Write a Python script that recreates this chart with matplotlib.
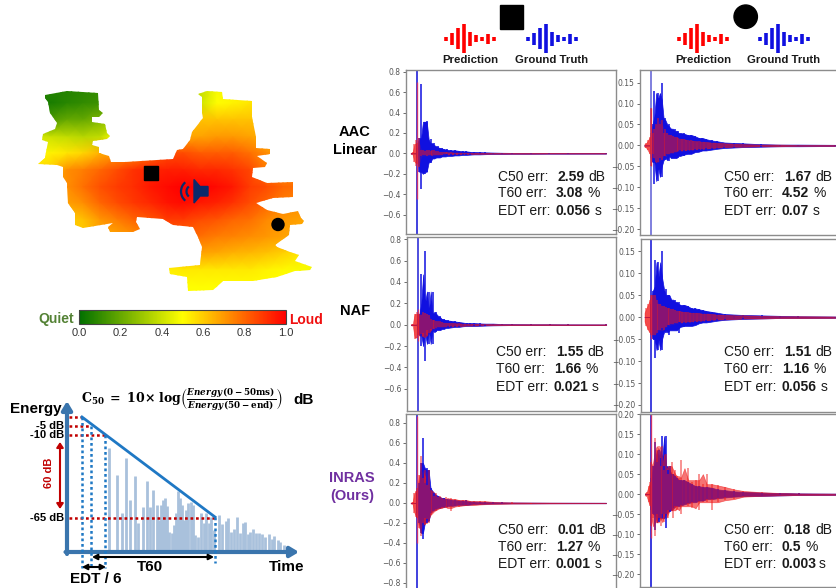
import numpy as np
import matplotlib
matplotlib.use("Agg")
import matplotlib.pyplot as plt
from matplotlib.colors import LinearSegmentedColormap
from matplotlib.patches import Polygon, Rectangle, Circle, Arc

W, H = 836, 588

# waveform sample positions, 0 is the direct sound
t = [-0.035, -0.025, -0.015, -0.005, 0, 0.01, 0.02, 0.03, 0.04, 0.05, 0.06, 0.07, 0.08, 0.09, 0.10, 0.11, 0.12,
     0.13, 0.14, 0.15, 0.16, 0.18, 0.20, 0.22, 0.24, 0.26, 0.28, 0.30, 0.33, 0.36, 0.40, 0.45, 0.50, 0.60, 0.70, 0.80, 1.0]

# AAC, square
a1_gt_hi = [0, 0, 0, 0, .05, .15, .68, .12, .31, .32, .10, .14, .08, .10, .06, .07, .05, .05, .04, .035, .04, .03, .03, .02, .025, .02, .015, .015, .012, .01, .008, .006, .005, .004, .003, .003, .002]
a1_gt_lo = [0, 0, 0, 0, -.05, -.18, -.35, -.06, -.2, -.18, -.08, -.09, -.05, -.05, -.04, -.04, -.03, -.04, -.03, -.03, -.025, -.025, -.02, -.02, -.015, -.015, -.012, -.01, -.01, -.008, -.006, -.005, -.004, -.004, -.003, -.003, -.002]
a1_pr_hi = [0, .01, .09, .13, .10, .15, .03, .03, .02, .03, .03, .02, .035, .03, .02, .02, .015, .015, .012, .012, .01, .01, .008, .008, .006, .006, .005, .005, .005, .004, .004, .003, .003, .003, .003, .002, .002]
a1_pr_lo = [0, -.01, -.08, -.12, -.10, -.13, -.03, -.02, -.02, -.03, -.02, -.02, -.025, -.02, -.015, -.015, -.012, -.012, -.01, -.01, -.01, -.008, -.008, -.006, -.006, -.005, -.005, -.005, -.004, -.004, -.003, -.003, -.003, -.003, -.002, -.002, -.002]
# AAC, circle
b1_gt_hi = [0, 0, 0, 0, .03, .05, .13, .07, .125, .11, .15, .06, .065, .045, .05, .04, .035, .04, .03, .035, .028, .03, .025, .025, .022, .018, .018, .015, .012, .01, .007, .006, .005, .003, .002, .002, .001]
b1_gt_lo = [0, 0, 0, 0, -.03, -.04, -.093, -.04, -.085, -.05, -.075, -.03, -.035, -.025, -.038, -.025, -.03, -.03, -.025, -.03, -.022, -.025, -.02, -.02, -.016, -.015, -.012, -.012, -.01, -.008, -.006, -.005, -.004, -.003, -.002, -.002, -.001]
b1_pr_hi = [0, .005, .012, .02, .09, .03, .04, .05, .065, .05, .06, .03, .04, .03, .025, .025, .022, .02, .02, .018, .016, .015, .012, .012, .01, .01, .009, .008, .007, .006, .005, .004, .003, .002, .002, .001, .001]
b1_pr_lo = [0, -.005, -.012, -.02, -.05, -.02, -.03, -.04, -.04, -.03, -.035, -.025, -.025, -.02, -.02, -.018, -.018, -.016, -.015, -.014, -.012, -.012, -.01, -.01, -.009, -.008, -.008, -.007, -.006, -.005, -.004, -.003, -.003, -.002, -.002, -.001, -.001]
# NAF, square
a2_gt_hi = [0, 0, 0, 0, .05, .10, .47, .20, .69, .12, .31, .08, .31, .10, .12, .07, .08, .05, .05, .04, .04, .035, .03, .025, .02, .015, .015, .02, .012, .01, .01, .006, .005, .004, .004, .003, .002]
a2_gt_lo = [0, 0, 0, 0, -.05, -.1, -.2, -.08, -.34, -.05, -.18, -.04, -.18, -.05, -.07, -.05, -.05, -.04, -.04, -.03, -.03, -.025, -.02, -.02, -.015, -.012, -.012, -.012, -.01, -.008, -.006, -.005, -.004, -.004, -.003, -.003, -.002]
a2_pr_hi = [0, .01, .10, .12, .10, .10, .09, .12, .11, .10, .09, .05, .04, .04, .03, .03, .03, .025, .02, .02, .015, .015, .012, .012, .01, .008, .008, .007, .006, .005, .005, .004, .004, .004, .004, .003, .003]
a2_pr_lo = [0, -.01, -.13, -.12, -.10, -.10, -.09, -.11, -.12, -.10, -.08, -.05, -.04, -.04, -.03, -.025, -.025, -.025, -.02, -.02, -.015, -.015, -.012, -.012, -.01, -.008, -.008, -.007, -.006, -.005, -.005, -.004, -.004, -.004, -.004, -.003, -.003]
# NAF, circle
b2_gt_hi = [0, 0, 0, 0, .03, .06, .13, .07, .125, .09, .15, .05, .065, .05, .05, .04, .035, .04, .03, .035, .028, .028, .025, .02, .02, .018, .016, .014, .012, .01, .007, .006, .005, .004, .003, .002, .001]
b2_gt_lo = [0, 0, 0, 0, -.03, -.05, -.093, -.04, -.075, -.05, -.075, -.03, -.035, -.03, -.04, -.03, -.03, -.03, -.025, -.035, -.02, -.022, -.02, -.02, -.018, -.014, -.012, -.012, -.01, -.008, -.006, -.005, -.004, -.003, -.002, -.002, -.001]
b2_pr_hi = [0, .02, .03, .04, .05, .05, .05, .04, .03, .03, .025, .025, .022, .02, .02, .018, .018, .016, .015, .014, .013, .012, .011, .01, .01, .009, .008, .008, .007, .006, .005, .004, .004, .003, .002, .002, .001]
b2_pr_lo = [0, -.02, -.03, -.035, -.04, -.04, -.04, -.035, -.03, -.03, -.025, -.03, -.022, -.018, -.018, -.016, -.016, -.014, -.014, -.012, -.012, -.011, -.01, -.01, -.009, -.008, -.008, -.007, -.006, -.005, -.005, -.004, -.003, -.003, -.002, -.002, -.001]
# INRAS, square
a3_gt_hi = [0, 0, 0, 0, .1, .2, .4, .65, .2, .35, .33, .15, .12, .1, .08, .07, .06, .05, .05, .04, .04, .035, .03, .025, .02, .03, .015, .015, .012, .01, .008, .006, .005, .004, .003, .003, .002]
a3_gt_lo = [0, 0, 0, 0, -.1, -.2, -.3, -.36, -.15, -.2, -.18, -.1, -.08, -.07, -.06, -.05, -.05, -.04, -.04, -.03, -.035, -.03, -.025, -.02, -.02, -.02, -.015, -.012, -.01, -.008, -.006, -.005, -.004, -.004, -.003, -.003, -.002]
a3_pr_hi = [0, .01, .1, .12, .15, .28, .47, .25, .33, .18, .33, .13, .12, .07, .1, .06, .07, .05, .04, .06, .04, .05, .04, .03, .03, .035, .02, .02, .018, .02, .012, .008, .006, .005, .004, .003, .002]
a3_pr_lo = [0, -.01, -.1, -.14, -.15, -.25, -.33, -.2, -.22, -.16, -.2, -.12, -.1, -.07, -.08, -.05, -.06, -.05, -.04, -.04, -.05, -.08, -.03, -.035, -.02, -.025, -.02, -.015, -.02, -.012, -.01, -.008, -.006, -.005, -.004, -.003, -.002]
# INRAS, circle
b3_gt_hi = [0, 0, 0, 0, .04, .07, .13, .08, .11, .09, .145, .07, .145, .06, .07, .05, .05, .045, .04, .035, .035, .035, .03, .025, .02, .02, .018, .018, .016, .012, .01, .007, .006, .004, .003, .002, .001]
b3_gt_lo = [0, 0, 0, 0, -.04, -.05, -.09, -.05, -.07, -.06, -.06, -.05, -.085, -.04, -.045, -.04, -.035, -.03, -.03, -.03, -.028, -.025, -.022, -.02, -.02, -.016, -.016, -.012, -.012, -.01, -.008, -.006, -.005, -.004, -.003, -.002, -.001]
b3_pr_hi = [0, .005, .02, .03, .08, .07, .14, .11, .12, .07, .12, .06, .1, .05, .07, .08, .05, .06, .045, .04, .085, .035, .065, .03, .035, .05, .025, .05, .025, .022, .018, .012, .008, .005, .003, .002, .001]
b3_pr_lo = [0, -.005, -.02, -.03, -.08, -.06, -.105, -.07, -.06, -.08, -.05, -.07, -.05, -.06, -.04, -.04, -.06, -.035, -.04, -.03, -.05, -.025, -.03, -.035, -.02, -.04, -.02, -.02, -.04, -.02, -.015, -.012, -.006, -.004, -.003, -.002, -.001]

# direct sound spike (top, bottom) for ground truth and prediction
a_spikes = [((1, -1), (.7, -.45)), ((1, -1), (.15, -.15)), ((1, -1), (.87, -.4))]
b_spikes = [((1, -1), (.09, -.05)), ((1, -1), (.05, -.05)), ((1, -1), (.2, -.11))]

err_labels = ["C50 err:", "T60 err:", "EDT err:"]
err_units = ["dB", "%", "s"]
a_errs = [["2.59", "3.08", "0.056"], ["1.55", "1.66", "0.021"], ["0.01", "1.27", "0.001"]]
b_errs = [["1.67", "4.52", "0.07"], ["1.51", "1.16", "0.056"], ["0.18", "0.5", "0.003"]]

# loudness on a coarse grid over the room
map_x = [33, 50, 67, 83, 100, 117, 133, 150, 167, 183, 200, 217, 233, 250, 267, 283, 300, 317]
map_y = [87, 103, 120, 137, 153, 170, 187, 203, 220, 237, 253, 270, 287, 303]
loudness = [
    [.08, .08, .07, .08, .10, .20, .30, .35, .38, .38, .38, .48, .52, .55, .55, .55, .55, .55],
    [.08, .05, .08, .10, .12, .20, .30, .40, .42, .42, .40, .50, .52, .55, .55, .55, .55, .55],
    [.20, .15, .20, .20, .25, .30, .40, .50, .55, .60, .62, .62, .62, .62, .62, .62, .60, .60],
    [.42, .40, .38, .36, .38, .50, .55, .60, .65, .68, .68, .70, .70, .68, .65, .65, .60, .60],
    [.52, .52, .55, .58, .65, .70, .72, .78, .85, .85, .82, .82, .82, .78, .72, .70, .65, .65],
    [.55, .60, .72, .75, .80, .85, .90, .93, .94, .94, .92, .92, .90, .86, .75, .72, .70, .70],
    [.65, .70, .72, .78, .84, .88, .91, .95, .98, 1.0, 1.0, .98, .95, .88, .85, .80, .78, .75],
    [.62, .65, .68, .72, .80, .85, .89, .92, .96, .98, .95, .93, .90, .85, .80, .75, .72, .70],
    [.55, .58, .60, .62, .70, .75, .80, .83, .88, .88, .85, .83, .80, .78, .73, .70, .68, .65],
    [.50, .55, .58, .60, .66, .67, .70, .74, .77, .80, .78, .75, .74, .72, .70, .68, .66, .62],
    [.50, .50, .55, .58, .60, .60, .60, .62, .64, .66, .68, .67, .65, .64, .62, .59, .55, .50],
    [.50, .50, .50, .52, .52, .52, .52, .52, .53, .54, .54, .54, .54, .54, .52, .51, .49, .48],
    [.50, .50, .50, .50, .50, .50, .50, .50, .50, .50, .50, .50, .50, .50, .50, .50, .50, .50],
    [.50, .50, .50, .50, .50, .50, .50, .50, .50, .50, .50, .50, .50, .50, .50, .50, .50, .50],
]
room_x = [45, 67, 98, 99, 103, 99, 92, 92, 105, 107, 110, 107, 93, 92, 99, 99, 109, 111, 125, 173, 177, 183, 190, 192, 203, 202, 202, 198, 207, 222, 223, 252, 252, 256, 256, 270, 270, 257, 267, 265, 253, 252, 267, 293, 293, 273, 256, 267, 283, 298, 301, 304, 302, 290, 289, 275, 277, 290, 299, 295, 312, 310, 295, 277, 253, 223, 213, 188, 187, 170, 169, 200, 202, 198, 193, 173, 163, 137, 136, 140, 133, 110, 108, 113, 83, 75, 75, 68, 67, 63, 63, 57, 38, 38, 45, 45, 48, 42, 43, 55, 57, 50, 48, 45]
room_y = [95, 91, 93, 110, 113, 117, 117, 122, 124, 133, 136, 139, 141, 145, 147, 153, 156, 162, 162, 159, 150, 149, 140, 132, 118, 113, 97, 94, 91, 92, 99, 101, 117, 137, 148, 149, 154, 156, 163, 167, 168, 177, 183, 182, 197, 198, 203, 210, 214, 211, 218, 221, 224, 225, 235, 245, 247, 252, 255, 261, 267, 270, 271, 277, 281, 281, 290, 291, 277, 274, 268, 265, 247, 237, 227, 225, 219, 217, 222, 229, 232, 232, 227, 223, 228, 225, 213, 203, 183, 177, 167, 165, 164, 164, 158, 157, 142, 140, 134, 129, 123, 113, 102, 98]

# energy decay bars in the diagram
energy_x = [109, 117, 122, 126, 130, 135, 138, 143, 147, 150, 153, 157, 159, 161, 163, 165, 167, 169, 172, 174, 176, 178, 180, 182, 184, 186, 188, 191, 193, 195, 198, 201, 204, 206, 209, 211, 214, 219, 222, 226, 228, 231, 234, 237, 240, 243, 245, 248, 250, 253, 256, 259, 262, 265, 269, 272, 274, 278, 280, 284]
energy_top = [448, 475, 513, 458, 500, 476, 523, 507, 481, 507, 490, 505, 520, 505, 500, 498, 506, 532, 533, 525, 513, 491, 498, 505, 520, 510, 503, 502, 505, 535, 537, 513, 523, 513, 523, 517, 530, 515, 524, 521, 518, 532, 529, 517, 533, 523, 522, 534, 532, 529, 533, 533, 534, 537, 534, 539, 536, 540, 542, 545]

# little waveform icon above the panels
icon_offset = [-24, -18, -12.5, -6.5, 0, 6, 12, 18, 24]
icon_height = [4, 12, 21, 29, 14, 7, 4, 10, 4]

plt.rcParams['font.family'] = ['Liberation Sans', 'DejaVu Sans']
plt.rcParams['mathtext.fontset'] = 'dejavuserif'

fig = plt.figure(figsize=(W / 100, H / 100), dpi=100)


def px_axes(l, t_, r, b):
    return fig.add_axes([l / W, 1 - b / H, (r - l) / W, (b - t_) / H])


px = fig.add_axes([0, 0, 1, 1], zorder=10)
px.set_xlim(0, W)
px.set_ylim(H, 0)
px.axis('off')

cmap = LinearSegmentedColormap.from_list('loud', ['#006f00', '#ffff00', '#ff0000'])


def draw_wave(ax, hi, lo, col, alpha):
    # solid body from the middle of each three peaks, then the peaks as thin lines
    body_hi = [np.median(hi[max(i - 1, 0):i + 2]) for i in range(len(hi))]
    body_lo = [np.median(lo[max(i - 1, 0):i + 2]) for i in range(len(lo))]
    ax.fill_between(t, body_lo, body_hi, color=col, lw=0.5, alpha=alpha)
    ax.vlines(t, lo, hi, color=col, lw=1.1, alpha=alpha)


def wave_panel(box, yticks, ylim, fmt, start, length, gt_hi, gt_lo, pr_hi, pr_lo, spikes, spike_col):
    ax = px_axes(*box)
    width = box[2] - box[0]
    ax.set_xlim((box[0] - start) / length, (box[0] - start + width) / length)
    ax.set_ylim(*ylim)
    draw_wave(ax, gt_hi, gt_lo, '#1010e0', 1)
    ax.vlines(0, spikes[0][1], spikes[0][0], color=spike_col, lw=1.2)
    ax.vlines(0, spikes[1][1], spikes[1][0], color='#f03050', lw=1, alpha=0.8)
    draw_wave(ax, pr_hi, pr_lo, '#f01818', 0.6)
    ax.set_xticks([])
    ax.set_yticks(yticks)
    ax.set_yticklabels([fmt % v if v >= 0 else '\u2212' + fmt % -v for v in yticks])
    ax.tick_params(axis='y', labelsize=5.5, length=2, width=0.6, pad=2, colors='#555555', labelfontfamily='DejaVu Sans')
    for s in ax.spines.values():
        s.set_color('#8c8c8c')
        s.set_linewidth(1.0)
    return ax


a_ticks = [0.8, 0.6, 0.4, 0.2, 0.0, -0.2, -0.4, -0.6]
b_ticks = [0.15, 0.10, 0.05, 0.0, -0.05, -0.10, -0.15, -0.20]
a3_ticks = [0.8, 0.6, 0.4, 0.2, 0.0, -0.2, -0.4, -0.6, -0.8]
b3_ticks = [0.20, 0.15, 0.10, 0.05, 0.0, -0.05, -0.10, -0.15, -0.20]

wave_panel((406, 70, 616, 234), a_ticks, (-.79, .817), '%.1f', 417.3, 188.7, a1_gt_hi, a1_gt_lo, a1_pr_hi, a1_pr_lo, a_spikes[0], '#2020d8')
wave_panel((407, 237, 616, 411), a_ticks, (-.807, .82), '%.1f', 417.5, 188.7, a2_gt_hi, a2_gt_lo, a2_pr_hi, a2_pr_lo, a_spikes[1], '#3030d8')
wave_panel((406, 414, 616, 592), a3_ticks, (-.89, .89), '%.1f', 417.3, 188.7, a3_gt_hi, a3_gt_lo, a3_pr_hi, a3_pr_lo, a_spikes[2], '#2020d8')
wave_panel((640, 70, 840, 235), b_ticks, (-.2137, .18), '%.2f', 650.7, 184.3, b1_gt_hi, b1_gt_lo, b1_pr_hi, b1_pr_lo, b_spikes[0], '#6a6ad8')
wave_panel((641, 239, 840, 412), b_ticks, (-.216, .178), '%.2f', 651, 184.3, b2_gt_hi, b2_gt_lo, b2_pr_hi, b2_pr_lo, b_spikes[1], '#2020d8')
wave_panel((640, 414, 840, 587), b3_ticks, (-.2313, .2), '%.2f', 651.3, 184.3, b3_gt_hi, b3_gt_lo, b3_pr_hi, b3_pr_lo, b_spikes[2], '#1818d8')

# error texts: label x, bold x per line, unit x per line, line y
err_places = [
    (498, [557, 556, 556], [588, 587, 595], [177, 193, 211], a_errs[0]),
    (496, [556, 554, 554], [587, 586, 592], [352, 369, 387], a_errs[1]),
    (498, [557, 556, 556], [589, 587, 595], [530, 547, 564], a_errs[2]),
    (724, [784, 782, 782], [815, 814, 813], [177, 193, 211], b_errs[0]),
    (724, [784, 782, 782], [815, 814, 821], [352, 369, 387], b_errs[1]),
    (724, [784, 782, 782], [815, 805, 819], [530, 547, 564], b_errs[2]),
]
for lx, bx, ux, ys, vals in err_places:
    for i in range(3):
        px.text(lx, ys[i], err_labels[i], fontsize=10, va='center', color='#1a1a1a')
        px.text(bx[i], ys[i], vals[i], fontsize=10, va='center', fontweight='bold', color='#1a1a1a')
        px.text(ux[i], ys[i], err_units[i], fontsize=10, va='center', color='#1a1a1a')

# column heads
px.add_patch(Rectangle((500, 5), 23, 24, color='black'))
px.add_patch(Circle((745.7, 16.7), 11.7, color='black'))
for cx, col, name in [(470, '#ff0000', 'Prediction'), (552, '#1010e0', 'Ground Truth'),
                      (703, '#ff0000', 'Prediction'), (784, '#1010e0', 'Ground Truth')]:
    xs = [cx + o for o in icon_offset]
    ys = [h / 2 for h in icon_height]
    px.vlines(xs, [38.7 - y for y in ys], [38.7 + y for y in ys], color=col, lw=2.6)
    px.text(cx, 60, name, fontsize=8.2, fontweight='bold', ha='center', va='center', color='#1a1a1a')

# method names
px.text(355, 141, "AAC\nLinear", fontsize=10.5, fontweight='bold', ha='center', va='center', linespacing=1.3)
px.text(355, 311, "NAF", fontsize=10.5, fontweight='bold', ha='center', va='center')
px.text(352, 487, "INRAS\n(Ours)", fontsize=10.5, fontweight='bold', ha='center', va='center', color='#7030a0', linespacing=1.35)

# loudness map
mesh = px.pcolormesh(map_x, map_y, loudness, shading='gouraud', cmap=cmap, vmin=0, vmax=1, zorder=1)
room = Polygon(np.column_stack([room_x, room_y]), closed=True, transform=px.transData, fc='none', ec='none')
px.add_patch(room)
mesh.set_clip_path(room)

px.add_patch(Rectangle((144, 166), 13.5, 13.5, color='black', zorder=3))
px.add_patch(Circle((278, 224.5), 6, color='black', zorder=3))
px.add_patch(Polygon([(194, 179.5), (200, 186.5), (208, 186.5), (208, 196), (200, 196), (194, 203)], color='#0b2a6b', zorder=3))
for dia in [13, 24]:
    px.add_patch(Arc((193, 191.5), dia, dia, theta1=130, theta2=230, color='#0b2a6b', lw=1.6, zorder=3))

cax = px_axes(79, 310, 286, 324)
cb = fig.colorbar(mesh, cax=cax, orientation='horizontal')
cb.set_ticks([0, .2, .4, .6, .8, 1])
cb.set_ticklabels(['0.0', '0.2', '0.4', '0.6', '0.8', '1.0'])
cax.tick_params(labelsize=8, length=0, pad=3, labelcolor='#333333')
cb.outline.set_edgecolor('#444444')
cb.outline.set_linewidth(0.8)
px.text(56, 319.5, "Quiet", fontsize=10, fontweight='bold', color='#548235', ha='center', va='center')
px.text(306, 319.5, "Loud", fontsize=10, fontweight='bold', color='#f01010', ha='center', va='center')

# decay diagram
px.vlines(energy_x, 552, energy_top, color='#a9c1dc', lw=2, zorder=1)
blue = '#3a75ad'
px.annotate('', xy=(67, 401), xytext=(67, 554), arrowprops=dict(arrowstyle='-|>,head_width=0.3,head_length=0.5', color=blue, lw=3, shrinkA=0, shrinkB=0))
px.annotate('', xy=(299, 552), xytext=(65.5, 552), arrowprops=dict(arrowstyle='-|>,head_width=0.3,head_length=0.5', color=blue, lw=3, shrinkA=0, shrinkB=0))
px.plot([82, 215], [417, 517], color='#1f78c4', lw=2, zorder=4)
red_levels = [(417, 82), (426, 91), (435, 105), (517.7, 215)]
for y, xe in red_levels:
    px.plot([69, xe], [y, y], color='#c00000', lw=1.8, ls=(0, (1.1, 1.1)), zorder=3)
for x, y0, y1 in [(81.5, 417, 568), (91, 426, 568), (105, 435, 568), (215, 517, 563)]:
    px.plot([x, x], [y0, y1], color='#1f78c4', lw=1.8, ls=(0, (1.1, 1.1)), zorder=3)
px.annotate('', xy=(60, 442), xytext=(60, 509), arrowprops=dict(arrowstyle='<|-|>,head_width=0.2,head_length=0.3', color='#c00000', lw=1.5, shrinkA=0, shrinkB=0))
px.annotate('', xy=(92, 557), xytext=(214, 557), arrowprops=dict(arrowstyle='<|-|>,head_width=0.16,head_length=0.3', color='black', lw=1.5, shrinkA=0, shrinkB=0))
px.annotate('', xy=(82, 567), xytext=(106, 567), arrowprops=dict(arrowstyle='<|-|>,head_width=0.16,head_length=0.3', color='black', lw=1.5, shrinkA=0, shrinkB=0))

px.text(36, 409, "Energy", fontsize=11, fontweight='bold', ha='center', va='center')
px.text(287, 567, "Time", fontsize=11, fontweight='bold', ha='center', va='center')
px.text(150, 567, "T60", fontsize=11, fontweight='bold', ha='center', va='center')
px.text(96, 579, "EDT / 6", fontsize=11, fontweight='bold', ha='center', va='center')
for lab, y in [("-5 dB", 426), ("-10 dB", 435), ("-65 dB", 517.7)]:
    px.text(64, y, lab, fontsize=8, fontweight='bold', ha='right', va='center')
px.text(49, 473, "60 dB", fontsize=8, fontweight='bold', color='#c00000', rotation=90, ha='center', va='center')
px.text(81, 400, r'$\mathbf{C_{50}\ =\ 10{\times}\ log}\left(\frac{\mathbfit{Energy}\,\mathbf{(0-50ms)}}{\mathbfit{Energy}\,\mathbf{(50-end)}}\right)$',
        fontsize=9, ha='left', va='center')
px.text(293, 400, "dB", fontsize=11, fontweight='bold', ha='left', va='center')

fig.savefig('out.png', dpi=100)
